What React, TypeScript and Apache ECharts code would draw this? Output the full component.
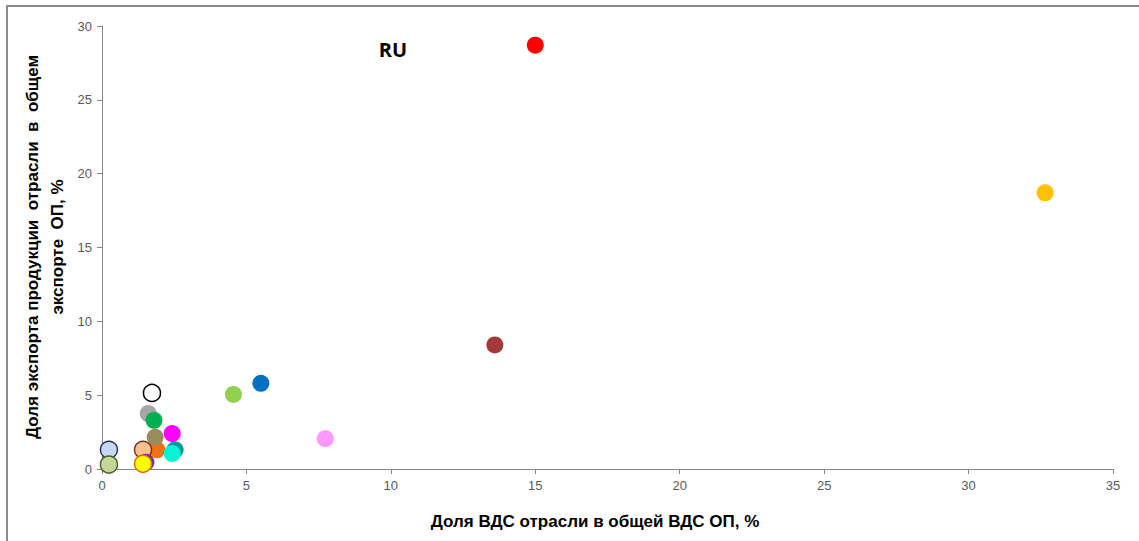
import React, { useEffect, useRef } from "react";
import * as echarts from "echarts";

const xTicks = [0, 5, 10, 15, 20, 25, 30, 35];
const yTicks = [0, 5, 10, 15, 20, 25, 30];

const pointX = [15.0, 32.65, 13.6, 5.5, 4.55, 7.73, 1.6, 1.8, 2.53, 1.9, 1.84, 2.43, 2.43, 1.42, 1.52, 1.42, 0.24, 0.24, 1.73];
const pointY = [28.7, 18.7, 8.4, 5.8, 5.05, 2.05, 3.75, 3.3, 1.3, 1.3, 2.15, 2.4, 1.05, 1.3, 0.45, 0.35, 1.3, 0.3, 5.15];
const pointColor = ["#FF0000", "#FFC000", "#A33A3A", "#0070C0", "#92D050", "#FF99FF", "#A6A6A6", "#00B050", "#009999", "#F07014", "#9A8C5A", "#FF00FF", "#00F5D4", "#FAC090", "#7030A0", "#FFFF00", "#C6D9F1", "#C4D79B", "#FFFFFF"];
const pointBorder = ["", "", "", "", "", "", "", "", "", "", "", "", "", "#7F2F1F", "", "#E46C0A", "#1F3864", "#4F6228", "#000000"];

export default function App() {
  const ref = useRef<HTMLDivElement>(null);
  useEffect(() => {
    if (!ref.current) return;
    const chart = echarts.init(ref.current, null, { renderer: "svg" });
    const data = pointX.map((x, i) => ({
      value: [x, pointY[i]],
      itemStyle: {
        color: pointColor[i],
        borderColor: pointBorder[i] || pointColor[i],
        borderWidth: pointBorder[i] ? 1.5 : 0,
        opacity: 1,
      },
    }));
    const axisLabelStyle = { color: "#595959", fontSize: 13, fontFamily: "Liberation Sans Narrow, Liberation Sans, sans-serif" };
    chart.setOption({
      animation: false,
      backgroundColor: "#ffffff",
      grid: { left: 102, right: 26, top: 26, bottom: 72, containLabel: false },
      xAxis: {
        type: "value",
        min: xTicks[0],
        max: xTicks[xTicks.length - 1],
        interval: 5,
        splitLine: { show: false },
        axisLine: { show: true, lineStyle: { color: "#868686", width: 1 } },
        axisTick: { show: true, length: 5, lineStyle: { color: "#868686" } },
        axisLabel: { ...axisLabelStyle, margin: 10 },
      },
      yAxis: {
        type: "value",
        min: yTicks[0],
        max: yTicks[yTicks.length - 1],
        interval: 5,
        splitLine: { show: false },
        axisLine: { show: true, lineStyle: { color: "#868686", width: 1 } },
        axisTick: { show: true, length: 5, lineStyle: { color: "#868686" } },
        axisLabel: { ...axisLabelStyle, margin: 10 },
      },
      series: [
        {
          type: "scatter",
          symbol: "circle",
          symbolSize: 17,
          data,
        },
      ],
      graphic: [
        {
          type: "rect",
          shape: { x: 7, y: 6, width: 1300, height: 700 },
          style: { fill: "none", stroke: "#8C8C8C", lineWidth: 2 },
          silent: true,
        },
        {
          type: "text",
          x: 393,
          y: 49,
          style: {
            text: "RU",
            fontSize: 20,
            fontWeight: "bold",
            fontFamily: "Open Sans, Liberation Sans, sans-serif",
            fill: "#000",
            align: "center",
            verticalAlign: "middle",
          },
        },
        {
          type: "text",
          x: 45,
          y: 247,
          rotation: Math.PI / 2,
          style: {
            text: "Доля экспорта продукции  отрасли  в  общем\nэкспорте  ОП, %",
            fontSize: 17,
            fontWeight: "bold",
            lineHeight: 25,
            fontFamily: "Liberation Sans, Arial, sans-serif",
            fill: "#000",
            align: "center",
            verticalAlign: "middle",
          },
        },
        {
          type: "text",
          x: 595,
          y: 521,
          style: {
            text: "Доля ВДС отрасли в общей ВДС ОП, %",
            fontSize: 17,
            fontWeight: "bold",
            fontFamily: "Liberation Sans Narrow, Liberation Sans, sans-serif",
            fill: "#000",
            align: "center",
            verticalAlign: "middle",
          },
        },
      ],
    });
    return () => chart.dispose();
  }, []);
  return (
    <div
      ref={ref}
      style={{ position: "fixed", left: 0, top: 0, width: 1139, height: 541, background: "#fff" }}
    />
  );
}
